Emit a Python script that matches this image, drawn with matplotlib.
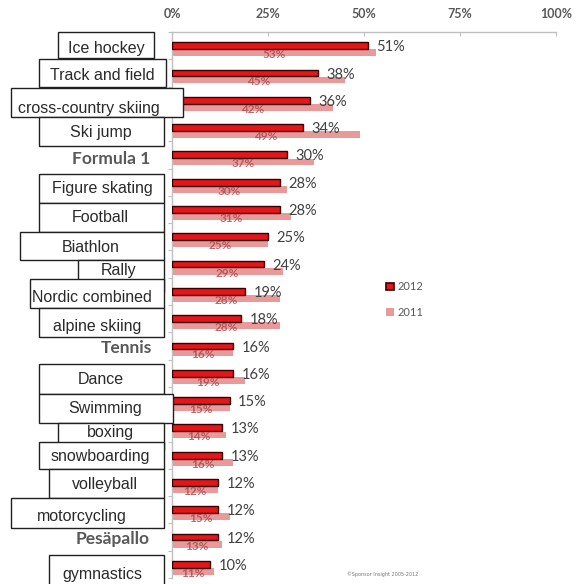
import matplotlib.pyplot as plt
from matplotlib.patches import Rectangle, Patch
import numpy as np

sports = ['Ice hockey', 'Track and field', 'cross-country skiing', 'Ski jump',
          'Formula 1', 'Figure skating', 'Football', 'Biathlon', 'Rally',
          'Nordic combined', 'alpine skiing', 'Tennis', 'Dance', 'Swimming',
          'boxing', 'snowboarding', 'volleyball', 'motorcycling', 'Pesäpallo',
          'gymnastics']
share_2012 = [51, 38, 36, 34, 30, 28, 28, 25, 24, 19, 18, 16, 16, 15, 13, 13, 12, 12, 12, 10]
share_2011 = [53, 45, 42, 49, 37, 30, 31, 25, 29, 28, 28, 16, 19, 15, 14, 16, 12, 15, 13, 11]
x_ticks = [0, 25, 50, 75, 100]

#label boxes pasted over the chart, in pixels from the top left:
#(left, top, right, bottom, text x, text y), None = plain bold text
label_boxes = [
    (58, 32, 154, 58, 106, 48), (39, 59, 166, 87, 102, 75),
    (11, 88, 183, 117, 89, 108), (39, 117, 164, 146, 101, 133),
    None, (39, 174, 164, 203, 102, 189), (39, 203, 164, 232, 100, 218),
    (20, 232, 164, 260, 91, 247), (78, 260, 164, 292, 119, 270),
    (30, 279, 164, 308, 92, 298), (39, 308, 164, 337, 97, 327),
    None, (39, 364, 164, 394, 101, 380), (39, 394, 173, 423, 105.5, 409),
    (58, 423, 164, 450, 110, 433), (39, 442, 164, 469, 100, 457),
    (49, 469, 164, 498, 105, 485), (11, 498, 164, 528, 82, 517),
    None, (49, 555, 164, 600, 102, 575),
]
plain_pos = {'Formula 1': (111, 159), 'Tennis': (126, 348), 'Pesäpallo': (113, 539)}

W, H = 576, 584
fig = plt.figure(figsize=(W / 100, H / 100), dpi=100, facecolor='white')
ax = fig.add_axes([172 / W, 1 - 578 / H, (556 - 172) / W, (578 - 32) / H])

gray = '#595959'
c12, e12, c11 = '#e3161a', '#3a0000', '#e89a9b'
y = np.arange(len(sports))
bh = 0.25

ax.barh(y + 0.26, share_2011, height=bh, color=c11, zorder=2, label='2011')
ax.barh(y, share_2012, height=bh, color=c12, edgecolor=e12, linewidth=1.0,
        zorder=3, label='2012')

for i, (a, b) in enumerate(zip(share_2012, share_2011)):
    ax.text(a + 2.2, i + 0.06, f'{a}%', ha='left', va='center', fontsize=10.5,
            family='Lato', color='#404040', zorder=4)
    ax.text(b / 2, i + 0.33, f'{b}%', ha='center', va='center', fontsize=8.5,
            family='Lato', fontweight='bold', color='#a8454a', alpha=0.8, zorder=4)

ax.set_xlim(0, 100)
ax.set_ylim(len(sports) - 0.5, -0.5)
ax.xaxis.tick_top()
ax.set_xticks(x_ticks)
ax.set_xticklabels([f'{t}%' for t in x_ticks], family='Lato', fontweight='bold',
                   fontsize=9, color=gray)
ax.tick_params(axis='x', direction='in', length=3, color='#c0c0c0', pad=9)
ax.set_yticks(np.arange(len(sports) + 1) - 0.5)
ax.set_yticklabels([])
ax.tick_params(axis='y', direction='out', length=3, color='#c0c0c0')
for s in ['right', 'bottom']:
    ax.spines[s].set_visible(False)
for s in ['top', 'left']:
    ax.spines[s].set_color('#c0c0c0')
    ax.spines[s].set_linewidth(1.0)


def px(x, yy):
    return x / W, 1 - yy / H


for name, box in zip(sports, label_boxes):
    if box is None:
        tx, ty = plain_pos[name]
        fig.text(*px(tx, ty), name, ha='center', va='center', family='Lato',
                 fontweight='bold', fontsize=12.5, color=gray)
        continue
    l, t, r, b, tx, ty = box
    x0, y0 = px(l, b)
    fig.add_artist(Rectangle((x0, y0), (r - l) / W, (b - t) / H,
                             transform=fig.transFigure, facecolor='white',
                             edgecolor='#202020', linewidth=1.0, zorder=10))
    fig.text(*px(tx, ty), name, ha='center', va='center', family='Liberation Sans',
             fontsize=11.5, color='#2a2a2a', zorder=11)

handles = [Patch(facecolor=c12, edgecolor=e12, linewidth=1.2, label='2012'),
           Patch(facecolor=c11, edgecolor='none', label='2011')]
fig.legend(handles=handles, loc='center left', bbox_to_anchor=px(376, 299.5),
           frameon=False, handlelength=0.7, handleheight=0.7, handletextpad=0.3,
           labelspacing=1.3, prop={'family': 'Lato', 'size': 8}, labelcolor=gray)

fig.text(*px(347, 574), '©Sponsor Insight 2005-2012', fontsize=3.5, color='#777777',
         va='center', ha='left')

plt.savefig('out.png', dpi=100, facecolor='white')
